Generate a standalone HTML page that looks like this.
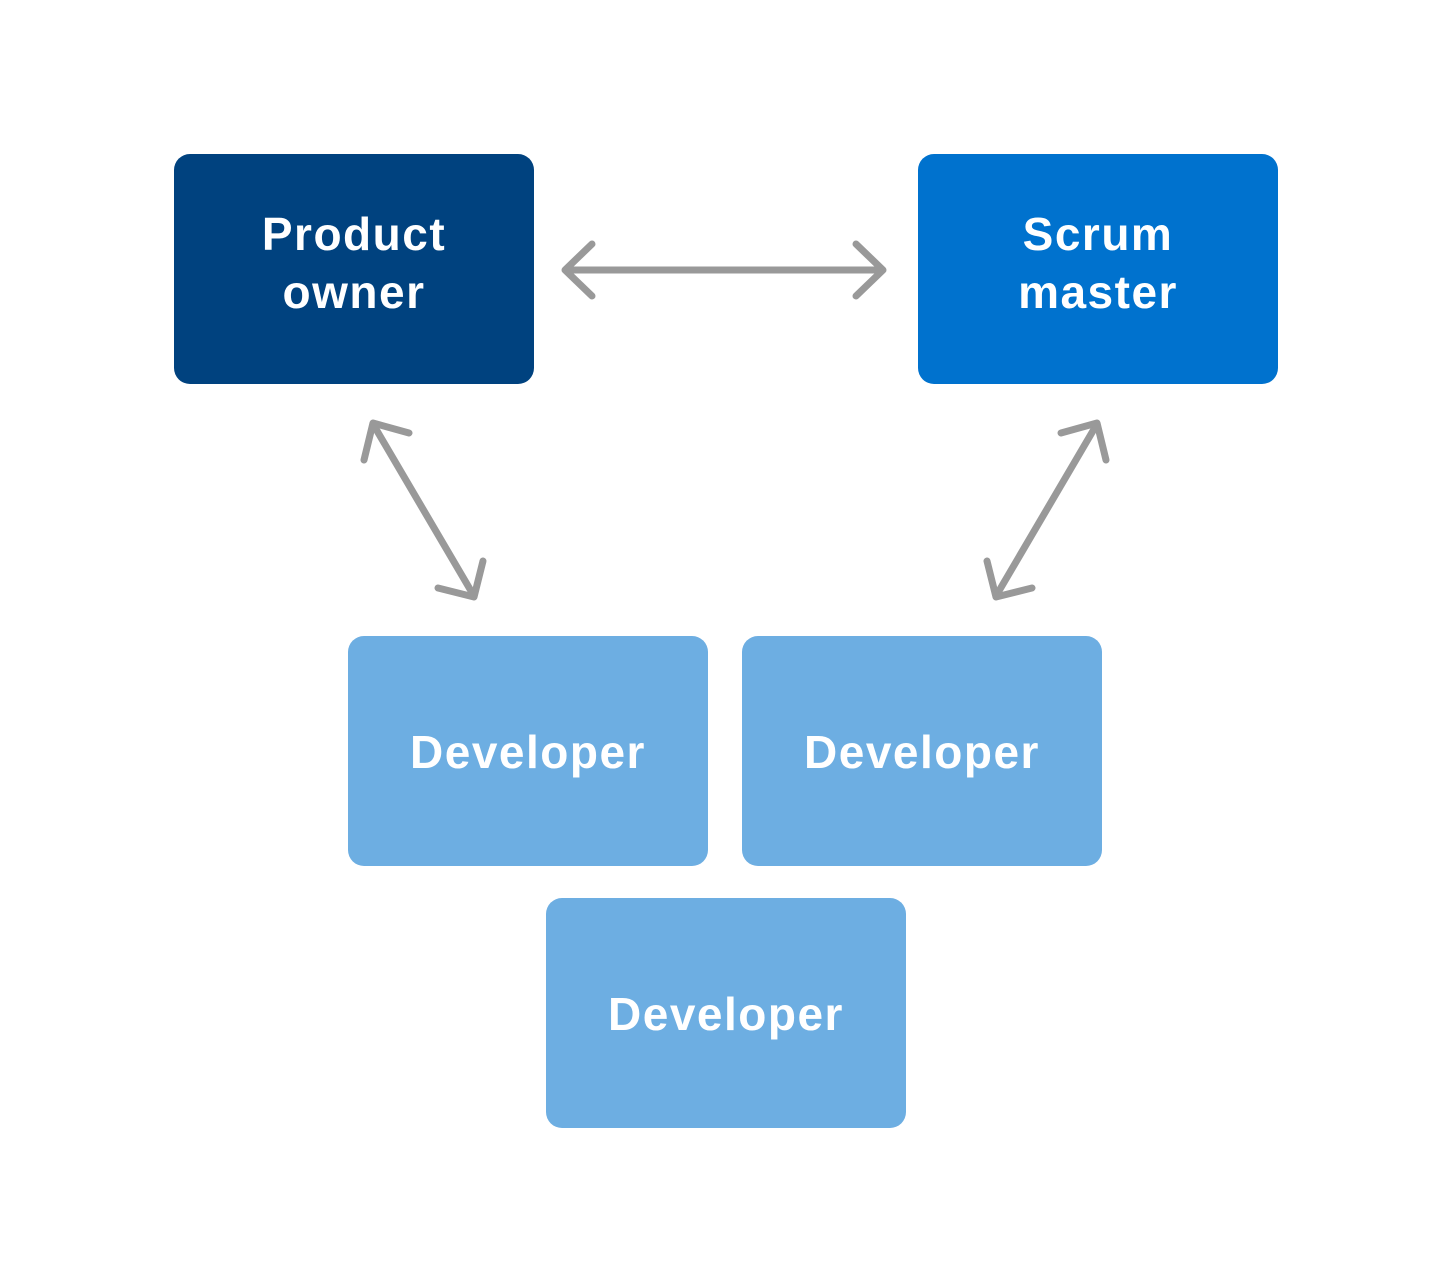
<!DOCTYPE html>
<html><head><meta charset="utf-8"><style>
html,body{margin:0;padding:0;background:#fff;}
</style></head><body>
<svg width="1450" height="1270" viewBox="0 0 1450 1270" xmlns="http://www.w3.org/2000/svg">
<rect width="1450" height="1270" fill="#fff"/>
<rect x="174" y="154" width="360" height="230" rx="16" fill="#00427f"/>
<rect x="918" y="154" width="360" height="230" rx="16" fill="#0072ce"/>
<rect x="348" y="636" width="360" height="230" rx="16" fill="#6daee2"/>
<rect x="742" y="636" width="360" height="230" rx="16" fill="#6daee2"/>
<rect x="546" y="898" width="360" height="230" rx="16" fill="#6daee2"/>
<g font-family="Liberation Sans, sans-serif" font-weight="bold" font-size="46" fill="#fff" text-anchor="middle" letter-spacing="1.5">
<text x="354" y="250">Product</text>
<text x="354" y="308">owner</text>
<text x="1098" y="250">Scrum</text>
<text x="1098" y="308">master</text>
<text x="528" y="768">Developer</text>
<text x="922" y="768">Developer</text>
<text x="726" y="1030">Developer</text>
</g>
<g stroke="#999" stroke-width="7" stroke-linecap="round" stroke-linejoin="round" fill="none">
<line x1="566" y1="270" x2="882" y2="270"/>
<polyline points="592,244 565,270 592,296"/>
<polyline points="856,244 883,270 856,296"/>
<line x1="373" y1="424" x2="474" y2="596"/>
<polyline points="409,433 373,423 364,460"/>
<polyline points="438,588 474,597 483,561"/>
<line x1="1097" y1="424" x2="996" y2="596"/>
<polyline points="1061,433 1097,423 1106,460"/>
<polyline points="1032,588 996,597 987,561"/>
</g>
</svg>
</body></html>
